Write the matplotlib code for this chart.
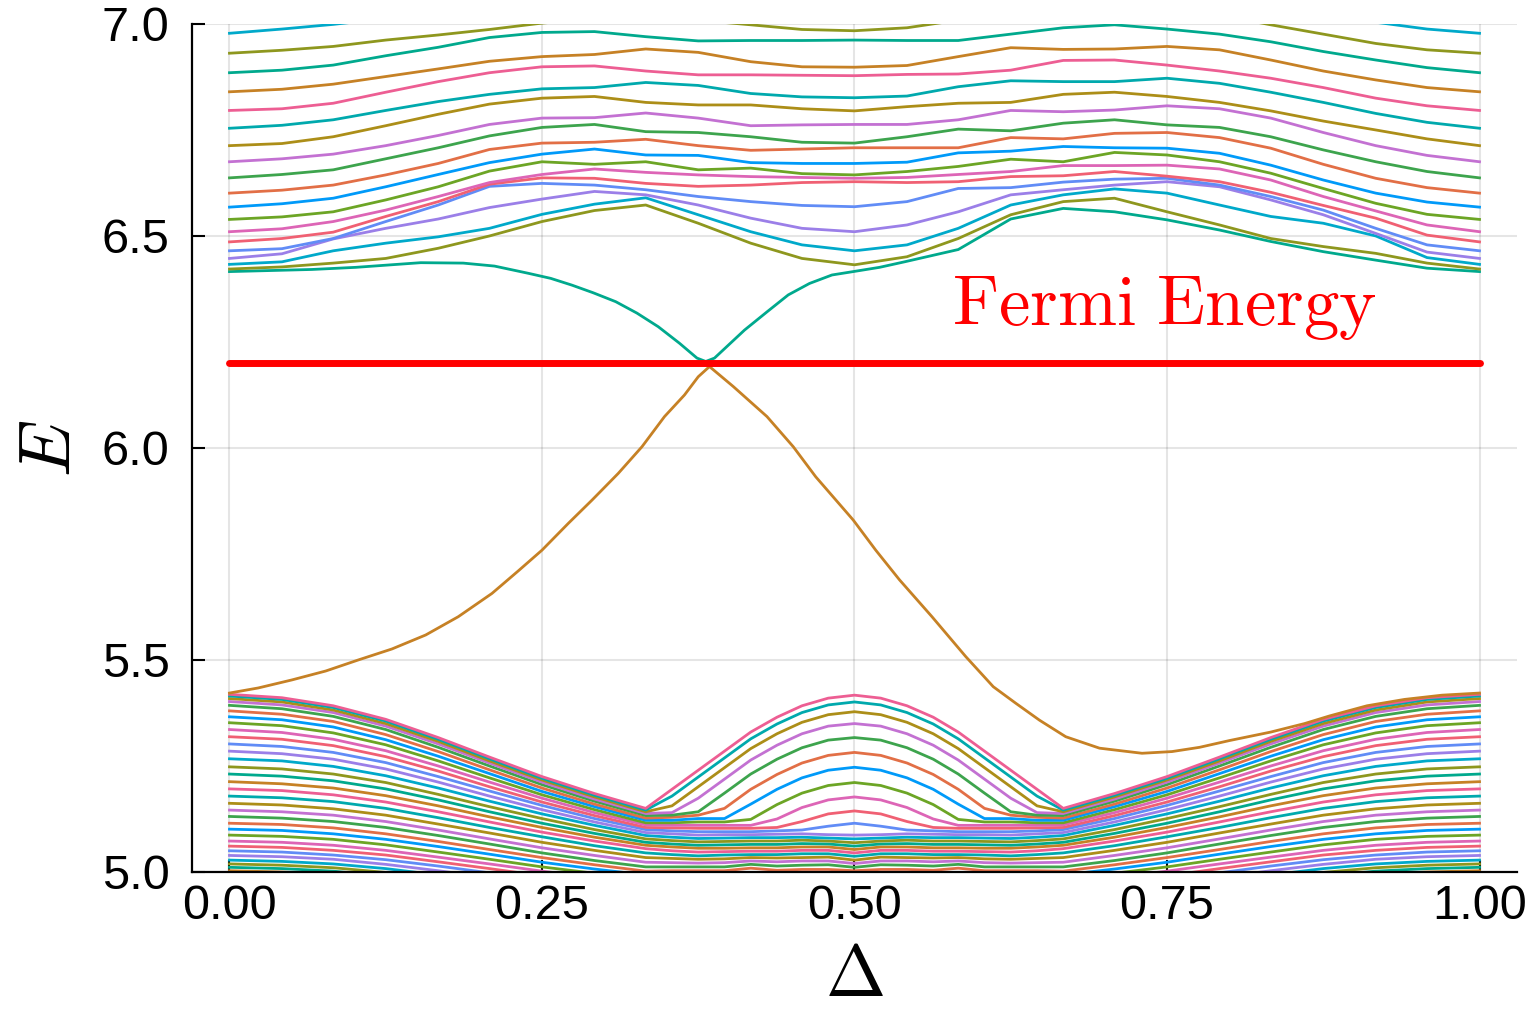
import matplotlib
matplotlib.use('Agg')
import matplotlib.pyplot as plt

plt.rcParams['mathtext.fontset'] = 'cm'
plt.rcParams['font.family'] = ['Liberation Sans', 'DejaVu Sans']

palette = ['#009AF9', '#E26F46', '#3DA44D', '#C371D2', '#AC8E18', '#00A9AD', '#ED5E93', '#C68125',
           '#00A98D', '#8E971E', '#00A9CA', '#9B7FE8', '#618CF6', '#F06073', '#DD65B6', '#6CA525']

fermi_energy = 6.2
fermi_delta = [0.0, 1.0]

lower_delta = [0.000, 0.042, 0.083, 0.125, 0.167, 0.208, 0.250, 0.292,
               0.333, 0.354, 0.375, 0.396, 0.417, 0.438, 0.458, 0.479, 0.500,
               0.521, 0.542, 0.563, 0.583, 0.604, 0.625, 0.646, 0.667,
               0.708, 0.750, 0.792, 0.833, 0.875, 0.917, 0.958, 1.000]

# lower bulk bands, top band first (sorted eigenvalues)
lower_bands = [
    [5.419, 5.411, 5.392, 5.360, 5.317, 5.271, 5.225, 5.185, 5.150, 5.195, 5.240, 5.285, 5.330, 5.365, 5.392, 5.410, 5.417, 5.410, 5.392, 5.365, 5.330, 5.285, 5.240, 5.195, 5.150, 5.185, 5.225, 5.271, 5.317, 5.360, 5.392, 5.411, 5.419],
    [5.415, 5.407, 5.388, 5.356, 5.313, 5.267, 5.221, 5.181, 5.146, 5.179, 5.224, 5.269, 5.314, 5.349, 5.376, 5.394, 5.401, 5.394, 5.376, 5.349, 5.314, 5.269, 5.224, 5.179, 5.146, 5.181, 5.221, 5.267, 5.313, 5.356, 5.388, 5.407, 5.415],
    [5.409, 5.401, 5.382, 5.350, 5.308, 5.262, 5.217, 5.177, 5.142, 5.156, 5.201, 5.246, 5.291, 5.326, 5.353, 5.371, 5.378, 5.371, 5.353, 5.326, 5.291, 5.246, 5.201, 5.156, 5.142, 5.177, 5.217, 5.262, 5.308, 5.350, 5.382, 5.401, 5.409],
    [5.402, 5.394, 5.376, 5.344, 5.302, 5.257, 5.212, 5.172, 5.138, 5.140, 5.174, 5.219, 5.264, 5.299, 5.326, 5.344, 5.350, 5.344, 5.326, 5.299, 5.264, 5.219, 5.174, 5.140, 5.138, 5.172, 5.212, 5.257, 5.302, 5.344, 5.376, 5.394, 5.402],
    [5.393, 5.385, 5.367, 5.336, 5.294, 5.250, 5.206, 5.167, 5.133, 5.134, 5.142, 5.186, 5.231, 5.266, 5.293, 5.311, 5.317, 5.311, 5.293, 5.266, 5.231, 5.186, 5.142, 5.134, 5.133, 5.167, 5.206, 5.250, 5.294, 5.336, 5.367, 5.385, 5.393],
    [5.380, 5.372, 5.355, 5.324, 5.284, 5.241, 5.198, 5.160, 5.127, 5.129, 5.134, 5.150, 5.195, 5.230, 5.257, 5.275, 5.282, 5.275, 5.257, 5.230, 5.195, 5.150, 5.134, 5.129, 5.127, 5.160, 5.198, 5.241, 5.284, 5.324, 5.355, 5.372, 5.380],
    [5.366, 5.359, 5.342, 5.312, 5.273, 5.232, 5.190, 5.154, 5.122, 5.122, 5.126, 5.126, 5.160, 5.195, 5.222, 5.240, 5.247, 5.240, 5.222, 5.195, 5.160, 5.126, 5.126, 5.122, 5.122, 5.154, 5.190, 5.232, 5.273, 5.312, 5.342, 5.359, 5.366],
    [5.352, 5.345, 5.328, 5.300, 5.262, 5.222, 5.182, 5.147, 5.116, 5.116, 5.118, 5.118, 5.124, 5.159, 5.186, 5.204, 5.211, 5.204, 5.186, 5.159, 5.124, 5.118, 5.118, 5.116, 5.116, 5.147, 5.182, 5.222, 5.262, 5.300, 5.328, 5.345, 5.352],
    [5.336, 5.329, 5.313, 5.286, 5.250, 5.212, 5.174, 5.140, 5.111, 5.110, 5.110, 5.110, 5.110, 5.125, 5.152, 5.170, 5.177, 5.170, 5.152, 5.125, 5.110, 5.110, 5.110, 5.110, 5.111, 5.140, 5.174, 5.212, 5.250, 5.286, 5.313, 5.329, 5.336],
    [5.319, 5.313, 5.298, 5.272, 5.238, 5.201, 5.165, 5.133, 5.105, 5.104, 5.103, 5.103, 5.103, 5.105, 5.119, 5.137, 5.144, 5.137, 5.119, 5.105, 5.103, 5.103, 5.103, 5.104, 5.105, 5.133, 5.165, 5.201, 5.238, 5.272, 5.298, 5.313, 5.319],
    [5.302, 5.296, 5.282, 5.258, 5.225, 5.191, 5.157, 5.126, 5.100, 5.097, 5.095, 5.095, 5.095, 5.097, 5.099, 5.108, 5.115, 5.108, 5.099, 5.097, 5.095, 5.095, 5.095, 5.097, 5.100, 5.126, 5.157, 5.191, 5.225, 5.258, 5.282, 5.296, 5.302],
    [5.285, 5.279, 5.266, 5.243, 5.212, 5.179, 5.147, 5.118, 5.093, 5.090, 5.087, 5.088, 5.088, 5.089, 5.090, 5.088, 5.087, 5.088, 5.090, 5.089, 5.088, 5.088, 5.087, 5.090, 5.093, 5.118, 5.147, 5.179, 5.212, 5.243, 5.266, 5.279, 5.285],
    [5.267, 5.262, 5.249, 5.227, 5.198, 5.167, 5.137, 5.110, 5.086, 5.082, 5.079, 5.080, 5.081, 5.081, 5.082, 5.080, 5.078, 5.080, 5.082, 5.081, 5.081, 5.080, 5.079, 5.082, 5.086, 5.110, 5.137, 5.167, 5.198, 5.227, 5.249, 5.262, 5.267],
    [5.248, 5.243, 5.231, 5.211, 5.183, 5.154, 5.126, 5.100, 5.078, 5.074, 5.071, 5.072, 5.073, 5.073, 5.075, 5.073, 5.069, 5.073, 5.075, 5.073, 5.073, 5.072, 5.071, 5.074, 5.078, 5.100, 5.126, 5.154, 5.183, 5.211, 5.231, 5.243, 5.248],
    [5.231, 5.226, 5.215, 5.196, 5.170, 5.142, 5.115, 5.091, 5.070, 5.066, 5.063, 5.064, 5.065, 5.065, 5.067, 5.066, 5.061, 5.066, 5.067, 5.065, 5.065, 5.064, 5.063, 5.066, 5.070, 5.091, 5.115, 5.142, 5.170, 5.196, 5.215, 5.226, 5.231],
    [5.213, 5.208, 5.198, 5.180, 5.156, 5.130, 5.105, 5.082, 5.063, 5.059, 5.056, 5.056, 5.057, 5.057, 5.059, 5.059, 5.053, 5.059, 5.059, 5.057, 5.057, 5.056, 5.056, 5.059, 5.063, 5.082, 5.105, 5.130, 5.156, 5.180, 5.198, 5.208, 5.213],
    [5.196, 5.192, 5.182, 5.165, 5.142, 5.118, 5.094, 5.073, 5.055, 5.050, 5.047, 5.048, 5.049, 5.049, 5.051, 5.051, 5.045, 5.051, 5.051, 5.049, 5.049, 5.048, 5.047, 5.050, 5.055, 5.073, 5.094, 5.118, 5.142, 5.165, 5.182, 5.192, 5.196],
    [5.179, 5.175, 5.166, 5.150, 5.128, 5.105, 5.083, 5.062, 5.045, 5.041, 5.038, 5.040, 5.041, 5.041, 5.043, 5.043, 5.037, 5.043, 5.043, 5.041, 5.041, 5.040, 5.038, 5.041, 5.045, 5.062, 5.083, 5.105, 5.128, 5.150, 5.166, 5.175, 5.179],
    [5.162, 5.158, 5.149, 5.134, 5.113, 5.092, 5.070, 5.051, 5.034, 5.032, 5.030, 5.031, 5.034, 5.033, 5.034, 5.035, 5.028, 5.035, 5.034, 5.033, 5.034, 5.031, 5.030, 5.032, 5.034, 5.051, 5.070, 5.092, 5.113, 5.134, 5.149, 5.158, 5.162],
    [5.146, 5.142, 5.134, 5.119, 5.099, 5.078, 5.057, 5.039, 5.023, 5.022, 5.021, 5.022, 5.026, 5.024, 5.026, 5.026, 5.020, 5.026, 5.026, 5.024, 5.026, 5.022, 5.021, 5.022, 5.023, 5.039, 5.057, 5.078, 5.099, 5.119, 5.134, 5.142, 5.146],
    [5.131, 5.127, 5.119, 5.105, 5.086, 5.066, 5.045, 5.027, 5.012, 5.012, 5.012, 5.012, 5.018, 5.014, 5.016, 5.017, 5.011, 5.017, 5.016, 5.014, 5.018, 5.012, 5.012, 5.012, 5.012, 5.027, 5.045, 5.066, 5.086, 5.105, 5.119, 5.127, 5.131],
    [5.115, 5.112, 5.104, 5.090, 5.072, 5.053, 5.034, 5.017, 5.002, 5.003, 5.003, 5.003, 5.009, 5.004, 5.006, 5.006, 5.003, 5.006, 5.006, 5.004, 5.009, 5.003, 5.003, 5.003, 5.002, 5.017, 5.034, 5.053, 5.072, 5.090, 5.104, 5.112, 5.115],
    [5.101, 5.098, 5.090, 5.077, 5.060, 5.042, 5.023, 5.007, 4.993, 4.990, 4.990, 4.990, 4.990, 4.990, 4.990, 4.990, 4.990, 4.990, 4.990, 4.990, 4.990, 4.990, 4.990, 4.990, 4.993, 5.007, 5.023, 5.042, 5.060, 5.077, 5.090, 5.098, 5.101],
    [5.087, 5.084, 5.077, 5.064, 5.047, 5.030, 5.012, 4.997, 4.983, 4.980, 4.980, 4.980, 4.980, 4.980, 4.980, 4.980, 4.980, 4.980, 4.980, 4.980, 4.980, 4.980, 4.980, 4.980, 4.983, 4.997, 5.012, 5.030, 5.047, 5.064, 5.077, 5.084, 5.087],
    [5.073, 5.070, 5.063, 5.051, 5.035, 5.019, 5.002, 4.987, 4.974, 4.970, 4.970, 4.970, 4.970, 4.970, 4.970, 4.970, 4.970, 4.970, 4.970, 4.970, 4.970, 4.970, 4.970, 4.970, 4.974, 4.987, 5.002, 5.019, 5.035, 5.051, 5.063, 5.070, 5.073],
    [5.061, 5.058, 5.051, 5.040, 5.024, 5.008, 4.991, 4.977, 4.964, 4.960, 4.960, 4.960, 4.960, 4.960, 4.960, 4.960, 4.960, 4.960, 4.960, 4.960, 4.960, 4.960, 4.960, 4.960, 4.964, 4.977, 4.991, 5.008, 5.024, 5.040, 5.051, 5.058, 5.061],
    [5.050, 5.047, 5.040, 5.029, 5.014, 4.998, 4.982, 4.967, 4.955, 4.950, 4.950, 4.950, 4.950, 4.950, 4.950, 4.950, 4.950, 4.950, 4.950, 4.950, 4.950, 4.950, 4.950, 4.950, 4.955, 4.967, 4.982, 4.998, 5.014, 5.029, 5.040, 5.047, 5.050],
    [5.039, 5.036, 5.030, 5.018, 5.003, 4.987, 4.971, 4.957, 4.945, 4.940, 4.940, 4.940, 4.940, 4.940, 4.940, 4.940, 4.940, 4.940, 4.940, 4.940, 4.940, 4.940, 4.940, 4.940, 4.945, 4.957, 4.971, 4.987, 5.003, 5.018, 5.030, 5.036, 5.039],
    [5.028, 5.025, 5.019, 5.008, 4.993, 4.977, 4.962, 4.948, 4.936, 4.930, 4.930, 4.930, 4.930, 4.930, 4.930, 4.930, 4.930, 4.930, 4.930, 4.930, 4.930, 4.930, 4.930, 4.930, 4.936, 4.948, 4.962, 4.977, 4.993, 5.008, 5.019, 5.025, 5.028],
    [5.019, 5.016, 5.010, 4.999, 4.984, 4.968, 4.952, 4.938, 4.926, 4.920, 4.920, 4.920, 4.920, 4.920, 4.920, 4.920, 4.920, 4.920, 4.920, 4.920, 4.920, 4.920, 4.920, 4.920, 4.926, 4.938, 4.952, 4.968, 4.984, 4.999, 5.010, 5.016, 5.019],
    [5.011, 5.008, 5.002, 4.990, 4.975, 4.959, 4.943, 4.929, 4.917, 4.910, 4.910, 4.910, 4.910, 4.910, 4.910, 4.910, 4.910, 4.910, 4.910, 4.910, 4.910, 4.910, 4.910, 4.910, 4.917, 4.929, 4.943, 4.959, 4.975, 4.990, 5.002, 5.008, 5.011],
    [5.003, 5.000, 4.994, 4.982, 4.967, 4.951, 4.935, 4.920, 4.908, 4.900, 4.900, 4.900, 4.900, 4.900, 4.900, 4.900, 4.900, 4.900, 4.900, 4.900, 4.900, 4.900, 4.900, 4.900, 4.908, 4.920, 4.935, 4.951, 4.967, 4.982, 4.994, 5.000, 5.003],
]

upper_delta = [0.000, 0.042, 0.083, 0.125, 0.167, 0.208, 0.250, 0.292, 0.333, 0.375, 0.417, 0.458, 0.500,
               0.542, 0.583, 0.625, 0.667, 0.708, 0.750, 0.792, 0.833, 0.875, 0.917, 0.958, 1.000]

# upper bulk bands, lowest first (the band above the upper edge state)
upper_bands = [
    [6.422, 6.427, 6.436, 6.447, 6.471, 6.500, 6.534, 6.560, 6.573, 6.530, 6.483, 6.447, 6.432, 6.451, 6.494, 6.550, 6.581, 6.589, 6.557, 6.526, 6.494, 6.475, 6.459, 6.436, 6.422],
    [6.433, 6.439, 6.465, 6.483, 6.498, 6.518, 6.551, 6.575, 6.590, 6.550, 6.510, 6.479, 6.465, 6.479, 6.518, 6.573, 6.597, 6.611, 6.601, 6.573, 6.546, 6.530, 6.500, 6.449, 6.433],
    [6.447, 6.458, 6.493, 6.518, 6.540, 6.567, 6.587, 6.605, 6.597, 6.573, 6.542, 6.518, 6.510, 6.526, 6.557, 6.597, 6.609, 6.620, 6.628, 6.616, 6.585, 6.550, 6.506, 6.462, 6.447],
    [6.465, 6.470, 6.494, 6.534, 6.573, 6.617, 6.624, 6.620, 6.609, 6.593, 6.581, 6.572, 6.569, 6.581, 6.612, 6.614, 6.627, 6.634, 6.636, 6.620, 6.593, 6.561, 6.518, 6.479, 6.465],
    [6.486, 6.494, 6.509, 6.546, 6.581, 6.622, 6.637, 6.636, 6.624, 6.617, 6.620, 6.626, 6.628, 6.626, 6.628, 6.640, 6.642, 6.652, 6.641, 6.628, 6.603, 6.572, 6.542, 6.502, 6.486],
    [6.510, 6.517, 6.534, 6.561, 6.593, 6.626, 6.645, 6.658, 6.650, 6.644, 6.640, 6.638, 6.636, 6.638, 6.645, 6.652, 6.666, 6.666, 6.667, 6.658, 6.632, 6.593, 6.559, 6.526, 6.510],
    [6.539, 6.545, 6.557, 6.585, 6.616, 6.653, 6.675, 6.669, 6.675, 6.656, 6.660, 6.647, 6.644, 6.652, 6.664, 6.681, 6.675, 6.697, 6.691, 6.675, 6.648, 6.612, 6.577, 6.551, 6.539],
    [6.568, 6.576, 6.589, 6.616, 6.645, 6.673, 6.693, 6.705, 6.691, 6.690, 6.673, 6.671, 6.671, 6.674, 6.696, 6.700, 6.711, 6.708, 6.707, 6.695, 6.667, 6.632, 6.601, 6.580, 6.568],
    [6.601, 6.608, 6.620, 6.644, 6.671, 6.704, 6.719, 6.721, 6.728, 6.713, 6.702, 6.705, 6.708, 6.708, 6.708, 6.732, 6.729, 6.742, 6.744, 6.732, 6.707, 6.669, 6.636, 6.614, 6.601],
    [6.637, 6.645, 6.656, 6.682, 6.708, 6.736, 6.756, 6.763, 6.746, 6.744, 6.734, 6.721, 6.719, 6.734, 6.752, 6.748, 6.766, 6.774, 6.762, 6.756, 6.734, 6.703, 6.675, 6.652, 6.637],
    [6.675, 6.682, 6.693, 6.713, 6.737, 6.763, 6.778, 6.779, 6.790, 6.778, 6.760, 6.762, 6.763, 6.763, 6.774, 6.796, 6.793, 6.797, 6.807, 6.800, 6.778, 6.744, 6.713, 6.690, 6.675],
    [6.713, 6.718, 6.734, 6.760, 6.787, 6.811, 6.825, 6.829, 6.815, 6.809, 6.809, 6.800, 6.795, 6.805, 6.813, 6.815, 6.834, 6.839, 6.829, 6.815, 6.795, 6.771, 6.750, 6.729, 6.713],
    [6.754, 6.761, 6.774, 6.796, 6.817, 6.834, 6.847, 6.850, 6.862, 6.855, 6.836, 6.828, 6.826, 6.830, 6.852, 6.866, 6.864, 6.864, 6.872, 6.860, 6.839, 6.815, 6.789, 6.768, 6.754],
    [6.796, 6.800, 6.813, 6.839, 6.864, 6.885, 6.899, 6.901, 6.889, 6.880, 6.880, 6.879, 6.878, 6.881, 6.882, 6.891, 6.914, 6.915, 6.903, 6.889, 6.872, 6.850, 6.825, 6.807, 6.796],
    [6.840, 6.846, 6.858, 6.876, 6.894, 6.912, 6.923, 6.928, 6.941, 6.933, 6.911, 6.899, 6.898, 6.902, 6.923, 6.944, 6.940, 6.941, 6.947, 6.939, 6.915, 6.889, 6.868, 6.850, 6.840],
    [6.885, 6.891, 6.903, 6.925, 6.945, 6.968, 6.980, 6.982, 6.970, 6.960, 6.961, 6.961, 6.962, 6.961, 6.961, 6.976, 6.991, 6.998, 6.988, 6.976, 6.958, 6.935, 6.915, 6.897, 6.885],
    [6.931, 6.938, 6.947, 6.962, 6.974, 6.987, 7.002, 7.013, 7.017, 7.009, 6.998, 6.987, 6.984, 6.991, 7.009, 7.021, 7.029, 7.037, 7.033, 7.021, 6.998, 6.976, 6.954, 6.939, 6.931],
    [6.978, 6.988, 6.999, 7.013, 7.025, 7.033, 7.037, 7.037, 7.045, 7.037, 7.029, 7.025, 7.025, 7.029, 7.037, 7.041, 7.061, 7.061, 7.057, 7.049, 7.037, 7.017, 7.004, 6.988, 6.978],
]

# in-gap state coming out of the lower band
lower_edge_delta = [0.0, 0.023, 0.050, 0.077, 0.103, 0.130, 0.157, 0.183, 0.210, 0.231, 0.250, 0.271, 0.290,
                    0.311, 0.330, 0.348, 0.364, 0.375, 0.384, 0.403, 0.430, 0.451, 0.469, 0.499, 0.517,
                    0.536, 0.562, 0.589, 0.611, 0.629, 0.648, 0.669, 0.696, 0.730, 0.754, 0.776, 0.800,
                    0.833, 0.860, 0.880, 0.910, 0.940, 0.970, 1.0]
lower_edge_E = [5.422, 5.434, 5.453, 5.474, 5.500, 5.526, 5.559, 5.602, 5.657, 5.710, 5.759, 5.822, 5.877,
                5.940, 6.003, 6.074, 6.125, 6.168, 6.192, 6.145, 6.074, 6.003, 5.932, 5.830, 5.759,
                5.689, 5.602, 5.508, 5.437, 5.398, 5.358, 5.319, 5.292, 5.280, 5.284, 5.294, 5.310,
                5.330, 5.350, 5.368, 5.392, 5.407, 5.417, 5.422]

# in-gap state coming out of the upper band
upper_edge_delta = [0.0, 0.066, 0.101, 0.153, 0.187, 0.212, 0.239, 0.257, 0.274, 0.291, 0.309, 0.326, 0.343,
                    0.360, 0.374, 0.381, 0.388, 0.412, 0.430, 0.447, 0.464, 0.482, 0.499, 0.520, 0.540,
                    0.583, 0.625, 0.667, 0.708, 0.75, 0.792, 0.833, 0.875, 0.917, 0.958, 1.0]
upper_edge_E = [6.416, 6.421, 6.426, 6.437, 6.436, 6.429, 6.412, 6.400, 6.384, 6.366, 6.345, 6.318, 6.286,
                6.247, 6.212, 6.204, 6.212, 6.278, 6.321, 6.361, 6.388, 6.408, 6.416, 6.426, 6.439,
                6.468, 6.540, 6.565, 6.557, 6.538, 6.514, 6.487, 6.463, 6.443, 6.424, 6.416]

fig = plt.figure(figsize=(15.37, 10.11), dpi=100)
ax = fig.add_axes([0.1249, 0.1375, 0.8621, 0.8388])

lw = 2.0
for k in reversed(range(len(lower_bands))):
    ax.plot(lower_delta, lower_bands[k], color=palette[(6 - k) % 16], lw=lw)
ax.plot(lower_edge_delta, lower_edge_E, color=palette[7], lw=lw)
ax.plot(upper_edge_delta, upper_edge_E, color=palette[8], lw=lw)
for u, band in enumerate(upper_bands, start=1):
    ax.plot(upper_delta, band, color=palette[(8 + u) % 16], lw=lw)

ax.plot(fermi_delta, [fermi_energy, fermi_energy], color='#FF0000', lw=5, solid_capstyle='round')
ax.text(0.748, 6.29, r'$\mathrm{Fermi\ Energy}$', color='#FF0000', fontsize=51,
        ha='center', va='baseline')

ax.set_xlim(-0.03, 1.03)
ax.set_ylim(5.0, 7.0)
ax.set_xticks([0.0, 0.25, 0.5, 0.75, 1.0])
ax.set_xticklabels(['0.00', '0.25', '0.50', '0.75', '1.00'])
ax.set_yticks([5.0, 5.5, 6.0, 6.5, 7.0])
ax.set_yticklabels(['5.0', '5.5', '6.0', '6.5', '7.0'])
ax.grid(True, color='black', alpha=0.1, lw=1.5)
ax.set_axisbelow(True)
for side in ['top', 'right']:
    ax.spines[side].set_visible(False)
for side in ['left', 'bottom']:
    ax.spines[side].set_linewidth(1.6)
ax.tick_params(direction='in', length=9, width=1.5, labelsize=35)
ax.tick_params(axis='x', pad=9)
ax.tick_params(axis='y', pad=16)

ax.set_xlabel(r'$\Delta$', fontsize=52)
ax.set_ylabel(r'$E$', fontsize=52)
ax.xaxis.set_label_coords(0.5, -0.085)
ax.yaxis.set_label_coords(-0.081, 0.5)

fig.savefig('out.png', dpi=100)
